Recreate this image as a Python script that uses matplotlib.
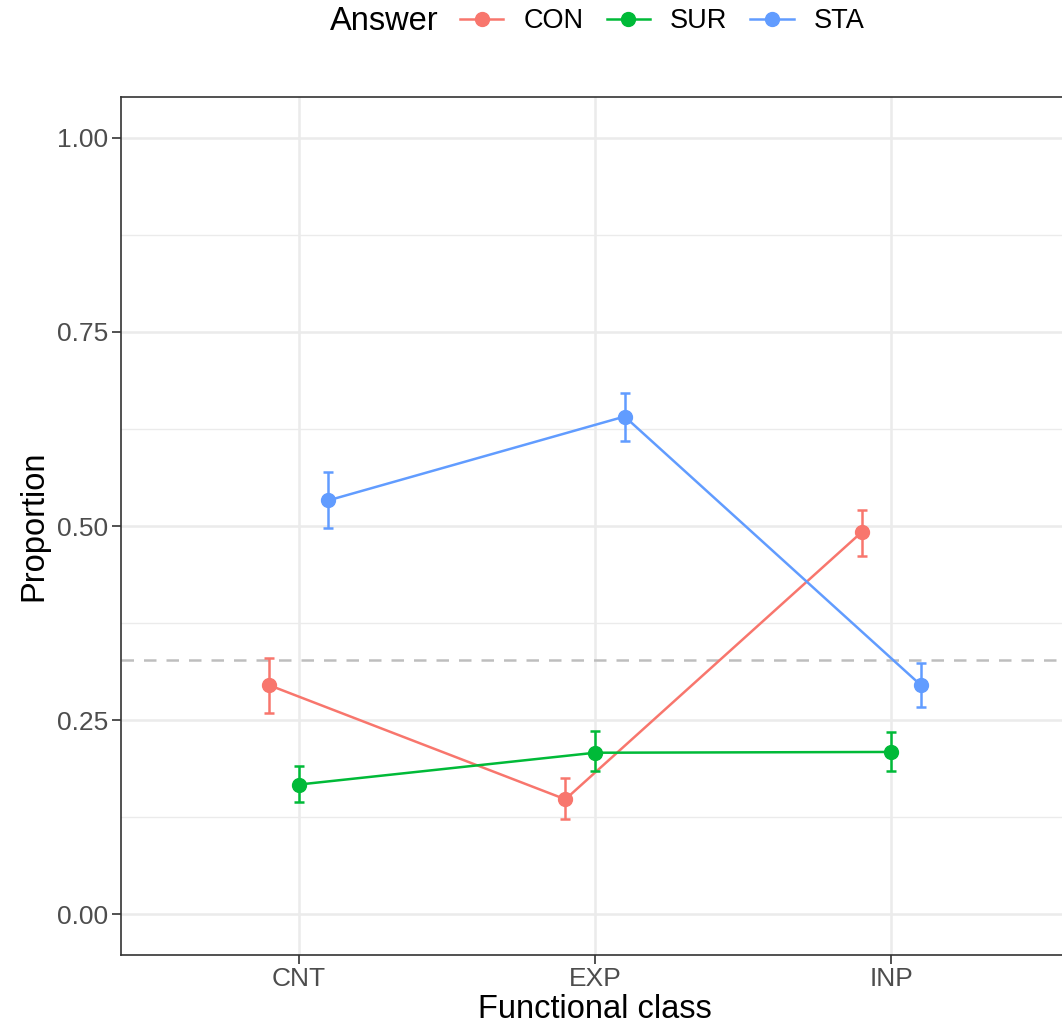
import matplotlib
matplotlib.use("Agg")
import matplotlib.pyplot as plt
from matplotlib.lines import Line2D
import numpy as np

plt.rcParams["font.family"] = ["Liberation Sans", "DejaVu Sans"]

# data
classes = ["CNT", "EXP", "INP"]
answers = ["CON", "SUR", "STA"]
colors = ["#F8766D", "#00BA38", "#619CFF"]

con_mean = [0.295, 0.148, 0.492]
con_low = [0.259, 0.123, 0.461]
con_high = [0.330, 0.176, 0.521]

sur_mean = [0.167, 0.208, 0.209]
sur_low = [0.145, 0.184, 0.184]
sur_high = [0.191, 0.236, 0.235]

sta_mean = [0.533, 0.641, 0.295]
sta_low = [0.497, 0.610, 0.267]
sta_high = [0.570, 0.671, 0.323]

chance = 0.327

series = [
    (con_mean, con_low, con_high),
    (sur_mean, sur_low, sur_high),
    (sta_mean, sta_low, sta_high),
]
dodge = [-0.1, 0.0, 0.1]

fig = plt.figure(figsize=(10.62, 10.33), dpi=100)
ax = fig.add_axes([121 / 1062, 78 / 1033, 948 / 1062, 858 / 1033])

# grid
for y in np.arange(0.125, 1.0, 0.25):
    ax.axhline(y, color="#EBEBEB", lw=1.0, zorder=0)
for y in np.arange(0, 1.01, 0.25):
    ax.axhline(y, color="#EBEBEB", lw=1.8, zorder=0)
for x in range(1, 4):
    ax.axvline(x, color="#EBEBEB", lw=1.8, zorder=0)

ax.axhline(chance, color="#BEBEBE", lw=1.8, ls=(0, (5, 4)), zorder=1)

xs = np.arange(1, 4)
for (m, lo, hi), col, d in zip(series, colors, dodge):
    m = np.array(m)
    yerr = [m - np.array(lo), np.array(hi) - m]
    ax.plot(xs + d, m, color=col, lw=1.8, zorder=3)
    ax.errorbar(xs + d, m, yerr=yerr, fmt="o", color=col, ms=10,
                elinewidth=1.8, capsize=3.5, capthick=1.8, zorder=4)

ax.set_xlim(0.4, 3.6)
ax.set_ylim(-0.0525, 1.0525)
ax.set_xticks(xs)
ax.set_xticklabels(classes)
ax.set_yticks([0, 0.25, 0.5, 0.75, 1.0])
ax.set_yticklabels(["0.00", "0.25", "0.50", "0.75", "1.00"])
ax.tick_params(labelsize=19, labelcolor="#4D4D4D", color="#333333",
               length=6.5, width=1.2, pad=2.5)
for s in ax.spines.values():
    s.set_color("#333333")
    s.set_linewidth(1.2)

ax.set_xlabel("Functional class", fontsize=23.5, labelpad=2)
ax.set_ylabel("Proportion", fontsize=23.5, labelpad=6)

# legend on top
fig.text(330 / 1062, 1 - 21 / 1033, "Answer", fontsize=23.5, va="center", ha="left")
handles = [Line2D([], [], color=c, lw=1.8, marker="o", ms=10) for c in colors]
fig.legend(handles, answers, loc="center left", bbox_to_anchor=(460 / 1062, 1 - 21 / 1033),
           ncol=3, frameon=False, fontsize=19.5, handlelength=1.6, handletextpad=0.74,
           columnspacing=0.85, borderaxespad=0, borderpad=0)

fig.savefig("out.png", dpi=100)
